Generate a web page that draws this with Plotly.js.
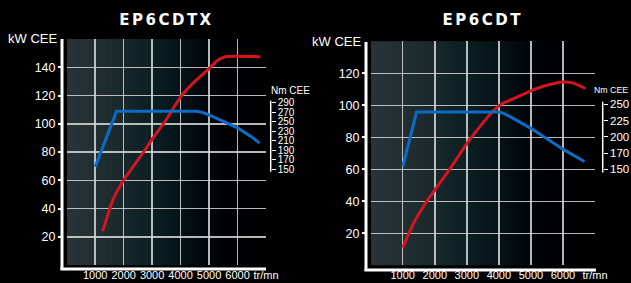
<!DOCTYPE html>
<html>
<head>
<meta charset="utf-8">
<script src="https://cdn.plot.ly/plotly-3.0.1.min.js"></script>
<style>html,body{margin:0;padding:0;background:#000;}#chart{width:631px;height:283px;}</style>
</head>
<body>
<div id="chart"></div>
<script>
// ---- data ----
const rpmTicks = [1000, 2000, 3000, 4000, 5000, 6000, 7000];
const rpmTickText = ['1000', '2000', '3000', '4000', '5000', '6000', 'tr/mn'];
const kwTicksA = [20, 40, 60, 80, 100, 120, 140];
const kwTicksB = [20, 40, 60, 80, 100, 120];
const nmTicksA = [150, 170, 190, 210, 230, 250, 270, 290];
const nmTicksB = [150, 175, 200, 225, 250];
const nmTickTextB = ['150', '170', '200', '225', '250'];

const titleA = 'EP6CDTX';
const titleB = 'EP6CDT';

// EP6CDTX
const cdtxPowerRpm = [1266, 1640, 2000, 2700, 3000, 3500, 4000, 4500, 5000, 5300, 5570, 6800];
const cdtxPowerKw  = [24, 47, 60, 80, 89, 103, 119, 130, 139, 145, 147.5, 147.5];
const cdtxTorqueRpm = [1000, 1750, 4550, 4800, 5000, 5500, 6000, 6500, 6775];
const cdtxTorqueNm  = [155, 272, 272, 269, 264, 251, 237, 218, 205];

// EP6CDT
const cdtPowerRpm = [1000, 1330, 1750, 2000, 2500, 3000, 3500, 3800, 4100, 4500, 5000, 5500, 6000, 6300, 6700];
const cdtPowerKw  = [11, 26, 40, 47, 61, 76, 89, 96, 101, 104.5, 109, 112.5, 114.5, 114, 110.5];
const cdtTorqueRpm = [1000, 1430, 4000, 4150, 4350, 5000, 6000, 6670];
const cdtTorqueNm  = [154, 238, 238, 236, 231, 213, 181, 162];

// ---- layout helpers ----
const W = 631, H = 283;
const px = v => v / W;
const py = v => 1 - v / H;

const RED = '#d4141e', BLUE = '#0a6cc4';
const narrow = '"Liberation Sans Narrow", "Liberation Sans", Arial, sans-serif';
const tickFont = {family: narrow, color: '#fff', size: 12.5};
const xTickFont = {family: narrow, color: '#fff', size: 11};
const nmFont = {family: narrow, color: '#fff', size: 10};

const traces = [
  {x: cdtxPowerRpm, y: cdtxPowerKw, xaxis: 'x', yaxis: 'y', mode: 'lines',
   line: {color: RED, width: 3, shape: 'spline', smoothing: 0.5}, hoverinfo: 'skip'},
  {x: cdtxTorqueRpm, y: cdtxTorqueNm, xaxis: 'x', yaxis: 'y2', mode: 'lines',
   line: {color: BLUE, width: 3, shape: 'linear'}, hoverinfo: 'skip'},
  {x: cdtPowerRpm, y: cdtPowerKw, xaxis: 'x2', yaxis: 'y3', mode: 'lines',
   line: {color: RED, width: 3, shape: 'spline', smoothing: 0.5}, hoverinfo: 'skip'},
  {x: cdtTorqueRpm, y: cdtTorqueNm, xaxis: 'x2', yaxis: 'y4', mode: 'lines',
   line: {color: BLUE, width: 3, shape: 'linear'}, hoverinfo: 'skip'}
];

const gridCol = 'rgba(215,215,215,0.85)';
const xCommon = {range: [0, 7000], tickvals: rpmTicks, ticktext: rpmTickText, showgrid: true,
  gridcolor: gridCol, gridwidth: 1.5, zeroline: false, showline: false, ticks: '', tickangle: 0,
  tickfont: xTickFont, anchor: 'free', fixedrange: true, automargin: false};
const yCommon = {showgrid: true, gridcolor: gridCol, gridwidth: 1.5, zeroline: false, showline: false,
  ticks: 'outside', ticklen: 4, tickwidth: 2, tickcolor: '#fff', tickfont: tickFont, anchor: 'free', fixedrange: true, automargin: false};
const y2Common = {showgrid: false, zeroline: false, showline: false, ticks: 'outside', ticklen: 4,
  tickwidth: 1, tickcolor: '#fff', tickfont: nmFont, anchor: 'free', side: 'right', fixedrange: true, automargin: false};

// gradient background stripes
function bgColor(f) {
  const stops = [[0, [42, 52, 56]], [0.25, [28, 42, 46]], [0.45, [10, 30, 34]], [0.6, [5, 16, 22]], [0.7, [1, 6, 12]], [0.8, [0, 1, 4]], [1, [0, 0, 0]]];
  for (let i = 0; i < stops.length - 1; i++) {
    const [a, ca] = stops[i], [b, cb] = stops[i + 1];
    if (f >= a && f <= b) {
      const t = (f - a) / (b - a);
      return 'rgb(' + ca.map((c, k) => Math.round(c + (cb[k] - c) * t)).join(',') + ')';
    }
  }
  return 'rgb(0,0,0)';
}
const shapes = [];
const N = 70;
[['x', 'y'], ['x2', 'y3']].forEach(([xr, yr]) => {
  for (let i = 0; i < N; i++) {
    shapes.push({type: 'rect', xref: xr, yref: yr + ' domain', x0: 7000 * i / N, x1: 7000 * (i + 1) / N + 20,
      y0: 0, y1: 1, fillcolor: bgColor((i + 0.5) / N), line: {width: 0}, layer: 'below'});
  }
});
// axis L-lines
const white = {color: '#fff', width: 3};
shapes.push({type: 'line', xref: 'paper', yref: 'paper', x0: px(62), x1: px(62), y0: py(39), y1: py(270), line: white});
shapes.push({type: 'line', xref: 'paper', yref: 'paper', x0: px(60.5), x1: px(266), y0: py(269), y1: py(269), line: white});
shapes.push({type: 'line', xref: 'paper', yref: 'paper', x0: px(366), x1: px(366), y0: py(42), y1: py(271), line: white});
shapes.push({type: 'line', xref: 'paper', yref: 'paper', x0: px(364.5), x1: px(596), y0: py(270), y1: py(270), line: white});
// Nm axis lines
shapes.push({type: 'line', xref: 'paper', yref: 'y2', x0: px(270.7), x1: px(270.7), y0: 145, y1: 294, line: {color: '#fff', width: 1.5}});
shapes.push({type: 'line', xref: 'paper', yref: 'y4', x0: px(602.7), x1: px(602.7), y0: 145, y1: 254, line: {color: '#fff', width: 1.5}});

const titleFont = {family: '"DejaVu Sans", sans-serif', size: 15, color: '#fff', weight: 'bold'};
const labFont = {family: narrow, size: 13, color: '#fff'};
const annotations = [
  {text: titleA, xref: 'paper', yref: 'paper', x: px(166), y: py(20.5), xanchor: 'center', yanchor: 'middle', showarrow: false, font: titleFont},
  {text: titleB, xref: 'paper', yref: 'paper', x: px(483), y: py(20.5), xanchor: 'center', yanchor: 'middle', showarrow: false, font: titleFont},
  {text: 'kW CEE', xref: 'paper', yref: 'paper', x: px(59), y: py(38), xanchor: 'right', yanchor: 'middle', showarrow: false, font: labFont},
  {text: 'kW CEE', xref: 'paper', yref: 'paper', x: px(363), y: py(42), xanchor: 'right', yanchor: 'middle', showarrow: false, font: labFont},
  {text: 'Nm CEE', xref: 'paper', yref: 'paper', x: px(269), y: py(90), xanchor: 'left', yanchor: 'middle', showarrow: false, font: {family: narrow, size: 10, color: '#fff'}},
  {text: 'Nm CEE', xref: 'paper', yref: 'paper', x: px(629.5), y: py(90), xanchor: 'right', yanchor: 'middle', showarrow: false, font: {family: narrow, size: 8.8, color: '#fff'}}
];

const layout = {
  width: W, height: H, margin: {l: 0, r: 0, t: 0, b: 0, pad: 0},
  paper_bgcolor: '#000', plot_bgcolor: 'rgba(0,0,0,0)', showlegend: false,
  xaxis: Object.assign({}, xCommon, {domain: [px(66.7), px(266)], position: py(267)}),
  yaxis: Object.assign({}, yCommon, {domain: [py(265), py(39)], range: [0, 160], tickvals: kwTicksA, position: px(62)}),
  yaxis2: Object.assign({}, y2Common, {overlaying: 'y', range: [-51, 423.6], tickvals: nmTicksA, position: px(270.7)}),
  xaxis2: Object.assign({}, xCommon, {domain: [px(370.7), px(595)], position: py(267)}),
  yaxis3: Object.assign({}, yCommon, {domain: [py(265.3), py(41.3)], range: [0, 140], tickvals: kwTicksB, position: px(366)}),
  yaxis4: Object.assign({}, y2Common, {overlaying: 'y3', range: [2.35, 346.9], tickvals: nmTicksB, ticktext: nmTickTextB,
    position: px(602.7), tickfont: Object.assign({}, nmFont, {size: 11.5})}),
  shapes: shapes, annotations: annotations
};

Plotly.newPlot('chart', traces, layout, {staticPlot: true, displayModeBar: false}).then(() => {
  document.querySelectorAll('.annotation-text').forEach(el => {
    const t = el.textContent;
    if (t === titleA || t === titleB) el.style.letterSpacing = '2.5px';
  });
});
</script>
</body>
</html>
